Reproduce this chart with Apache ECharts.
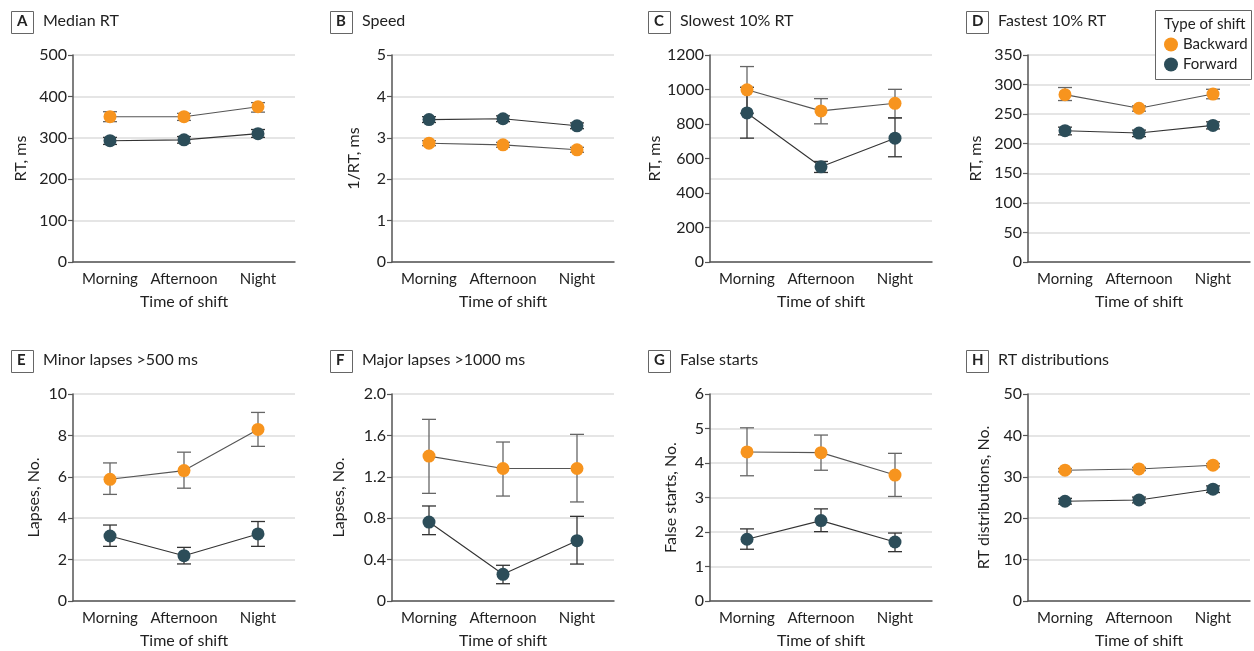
<!DOCTYPE html>
<html>
<head>
<meta charset="utf-8">
<script src="https://cdn.jsdelivr.net/npm/echarts@6/dist/echarts.min.js"></script>
<style>
html,body{margin:0;padding:0;background:#fff;}
#chart{width:1254px;height:651px;}
</style>
</head>
<body>
<div id="chart"></div>
<script>
// ---- data: [mean, lower CI, upper CI] per time of shift ----
const categories = ['Morning', 'Afternoon', 'Night'];
const seriesNames = ['Backward', 'Forward'];

const medianRtBackward = [[351, 339, 363], [351, 342, 359], [375, 362, 385]];
const medianRtForward  = [[293, 284, 301], [295, 287, 303], [310, 301, 320]];

const speedBackward = [[2.87, 2.81, 2.93], [2.83, 2.77, 2.89], [2.71, 2.65, 2.77]];
const speedForward  = [[3.44, 3.37, 3.51], [3.46, 3.39, 3.53], [3.29, 3.22, 3.36]];

const slowestBackward = [[998, 862, 1133], [876, 801, 947], [920, 836, 1001]];
const slowestForward  = [[864, 718, 1013], [552, 519, 583], [718, 610, 835]];

const fastestBackward = [[283, 273, 295], [260, 255, 264], [284, 276, 292]];
const fastestForward  = [[222, 215, 228], [218, 212, 223], [231, 225, 237]];

const minorLapsesBackward = [[5.88, 5.15, 6.67], [6.30, 5.45, 7.19], [8.29, 7.47, 9.11]];
const minorLapsesForward  = [[3.14, 2.64, 3.67], [2.19, 1.79, 2.59], [3.24, 2.64, 3.84]];

const majorLapsesBackward = [[1.40, 1.04, 1.755], [1.28, 1.014, 1.536], [1.28, 0.957, 1.61]];
const majorLapsesForward  = [[0.763, 0.641, 0.918], [0.258, 0.167, 0.345], [0.583, 0.357, 0.818]];

const falseStartsBackward = [[4.32, 3.63, 5.02], [4.30, 3.79, 4.81], [3.65, 3.03, 4.28]];
const falseStartsForward  = [[1.79, 1.50, 2.09], [2.33, 2.01, 2.67], [1.71, 1.43, 1.97]];

const rtDistBackward = [[31.6, 31.2, 32.0], [31.9, 31.5, 32.3], [32.8, 32.4, 33.2]];
const rtDistForward  = [[24.1, 23.4, 24.8], [24.4, 23.7, 25.1], [27.0, 26.2, 27.8]];

// ---- panel definitions ----
const panels = [
  {letter: 'A', title: 'Median RT', yName: 'RT, ms', max: 500, interval: 100, nameGap: 44, back: medianRtBackward, fwd: medianRtForward},
  {letter: 'B', title: 'Speed', yName: '1/RT, ms', max: 5, interval: 1, nameGap: 30, back: speedBackward, fwd: speedForward},
  {letter: 'C', title: 'Slowest 10% RT', yName: 'RT, ms', max: 1200, interval: 200, gridInterval: 240, nameGap: 44, back: slowestBackward, fwd: slowestForward},
  {letter: 'D', title: 'Fastest 10% RT', yName: 'RT, ms', max: 350, interval: 50, nameGap: 44, back: fastestBackward, fwd: fastestForward},
  {letter: 'E', title: 'Minor lapses >500 ms', yName: 'Lapses, No.', max: 10, interval: 2, nameGap: 31, back: minorLapsesBackward, fwd: minorLapsesForward},
  {letter: 'F', title: 'Major lapses >1000 ms', yName: 'Lapses, No.', max: 2, interval: 0.4, decimals: 1, nameGap: 45, back: majorLapsesBackward, fwd: majorLapsesForward},
  {letter: 'G', title: 'False starts', yName: 'False starts, No.', max: 6, interval: 1, nameGap: 31, back: falseStartsBackward, fwd: falseStartsForward},
  {letter: 'H', title: 'RT distributions', yName: 'RT distributions, No.', max: 50, interval: 10, nameGap: 36, back: rtDistBackward, fwd: rtDistForward}
];

const FONT = 'Lato, "Noto Sans", sans-serif';
const ORANGE = '#F7941E';
const TEAL = '#2C4D59';
const lefts = [73, 392, 710, 1028];
const tops = [55, 394];
const GW = 222, GH = 207;

const grids = [], xAxes = [], yAxes = [], series = [], graphics = [];

function errorBarSeries(name, data, xi, yi, color) {
  return {
    type: 'custom', name: name + ' CI', xAxisIndex: xi, yAxisIndex: yi, z: 2, silent: true,
    data: data.map((d, i) => [i, d[1], d[2]]),
    encode: {x: 0, y: [1, 2]},
    renderItem: function (params, api) {
      const x = api.value(0);
      const lo = api.coord([x, api.value(1)]);
      const hi = api.coord([x, api.value(2)]);
      const hw = 7;
      const st = {stroke: color, lineWidth: 1.3};
      return {type: 'group', children: [
        {type: 'line', shape: {x1: lo[0], y1: lo[1], x2: hi[0], y2: hi[1]}, style: st},
        {type: 'line', shape: {x1: lo[0] - hw, y1: lo[1], x2: lo[0] + hw, y2: lo[1]}, style: st},
        {type: 'line', shape: {x1: hi[0] - hw, y1: hi[1], x2: hi[0] + hw, y2: hi[1]}, style: st}
      ]};
    }
  };
}

panels.forEach((p, k) => {
  const row = Math.floor(k / 4), col = k % 4;
  const left = lefts[col], top = tops[row];
  grids.push({left: left, top: top, width: GW, height: GH, containLabel: false});
  xAxes.push({
    type: 'category', gridIndex: k, data: categories, boundaryGap: true,
    name: 'Time of shift', nameLocation: 'middle', nameGap: 32,
    nameTextStyle: {fontFamily: FONT, fontSize: 16, color: '#222'},
    axisLine: {lineStyle: {color: '#555', width: 1.5}},
    axisTick: {alignWithLabel: true, length: 5, interval: 0, lineStyle: {color: '#555', width: 1.2}},
    axisLabel: {fontFamily: FONT, fontSize: 15, color: '#222', margin: 10, interval: 0, hideOverlap: false},
    splitLine: {show: false}
  });
  const yi = yAxes.length;
  yAxes.push({
    type: 'value', gridIndex: k, min: 0, max: p.max, interval: p.interval,
    name: p.yName, nameLocation: 'middle', nameGap: p.nameGap,
    nameTextStyle: {fontFamily: FONT, fontSize: 16, color: '#222'},
    axisLine: {show: true, lineStyle: {color: '#555', width: 1.5}},
    axisTick: {show: true, length: 5, lineStyle: {color: '#555', width: 1.2}},
    axisLabel: {fontFamily: FONT, fontSize: 16, color: '#222', margin: 6,
      formatter: v => (v === 0 ? '0' : (p.decimals ? v.toFixed(p.decimals) : String(Math.round(v))))},
    splitLine: {show: !p.gridInterval, lineStyle: {color: '#dcdcdc', width: 1.5}}
  });
  if (p.gridInterval) {
    yAxes.push({
      type: 'value', gridIndex: k, min: 0, max: p.max, interval: p.gridInterval, position: 'left',
      axisLine: {show: false}, axisTick: {show: false}, axisLabel: {show: false},
      splitLine: {show: true, lineStyle: {color: '#dcdcdc', width: 1.5}}
    });
  }
  series.push(errorBarSeries('Backward', p.back, k, yi, '#666'));
  series.push(errorBarSeries('Forward', p.fwd, k, yi, '#333'));
  [[seriesNames[0], p.back, ORANGE, '#555'], [seriesNames[1], p.fwd, TEAL, '#333']].forEach(s => {
    series.push({
      type: 'line', name: s[0], xAxisIndex: k, yAxisIndex: yi, z: 3,
      data: s[1].map(d => d[0]),
      symbol: 'circle', symbolSize: 13, showSymbol: true,
      itemStyle: {color: s[2], borderWidth: 0},
      lineStyle: {color: s[3], width: 1.1},
      emphasis: {disabled: true}, animation: false
    });
  });
  // panel letter box + title
  const ty = row === 0 ? 11 : 350;
  graphics.push({type: 'rect', left: left - 62, top: ty, shape: {width: 22, height: 22}, style: {fill: '#fff', stroke: '#666', lineWidth: 1}});
  graphics.push({type: 'text', left: left - 62 + 11 - 5, top: ty + 3, style: {text: p.letter, fontFamily: FONT, fontSize: 15, fontWeight: 'bold', fill: '#222'}});
  graphics.push({type: 'text', left: left - 30, top: ty + 2, style: {text: p.title, fontFamily: FONT, fontSize: 16, fill: '#222'}});
});

// legend box
graphics.push({type: 'rect', left: 1155, top: 10, z: 50, shape: {width: 96, height: 69}, style: {fill: '#fff', stroke: '#666', lineWidth: 1}});
graphics.push({type: 'text', left: 1164, top: 17, z: 51, style: {text: 'Type of shift', fontFamily: FONT, fontSize: 15, fill: '#222'}});

const option = {
  animation: false,
  backgroundColor: '#fff',
  grid: grids,
  xAxis: xAxes,
  yAxis: yAxes,
  series: series,
  legend: {
    data: seriesNames, orient: 'vertical', left: 1164, top: 37, z: 60, padding: 0,
    itemGap: 5, itemWidth: 14, itemHeight: 14, icon: 'circle',
    textStyle: {fontFamily: FONT, fontSize: 15, color: '#222'},
    selectedMode: false
  },
  graphic: graphics
};

const chart = echarts.init(document.getElementById('chart'), null, {renderer: 'canvas'});
chart.setOption(option);
</script>
</body>
</html>
